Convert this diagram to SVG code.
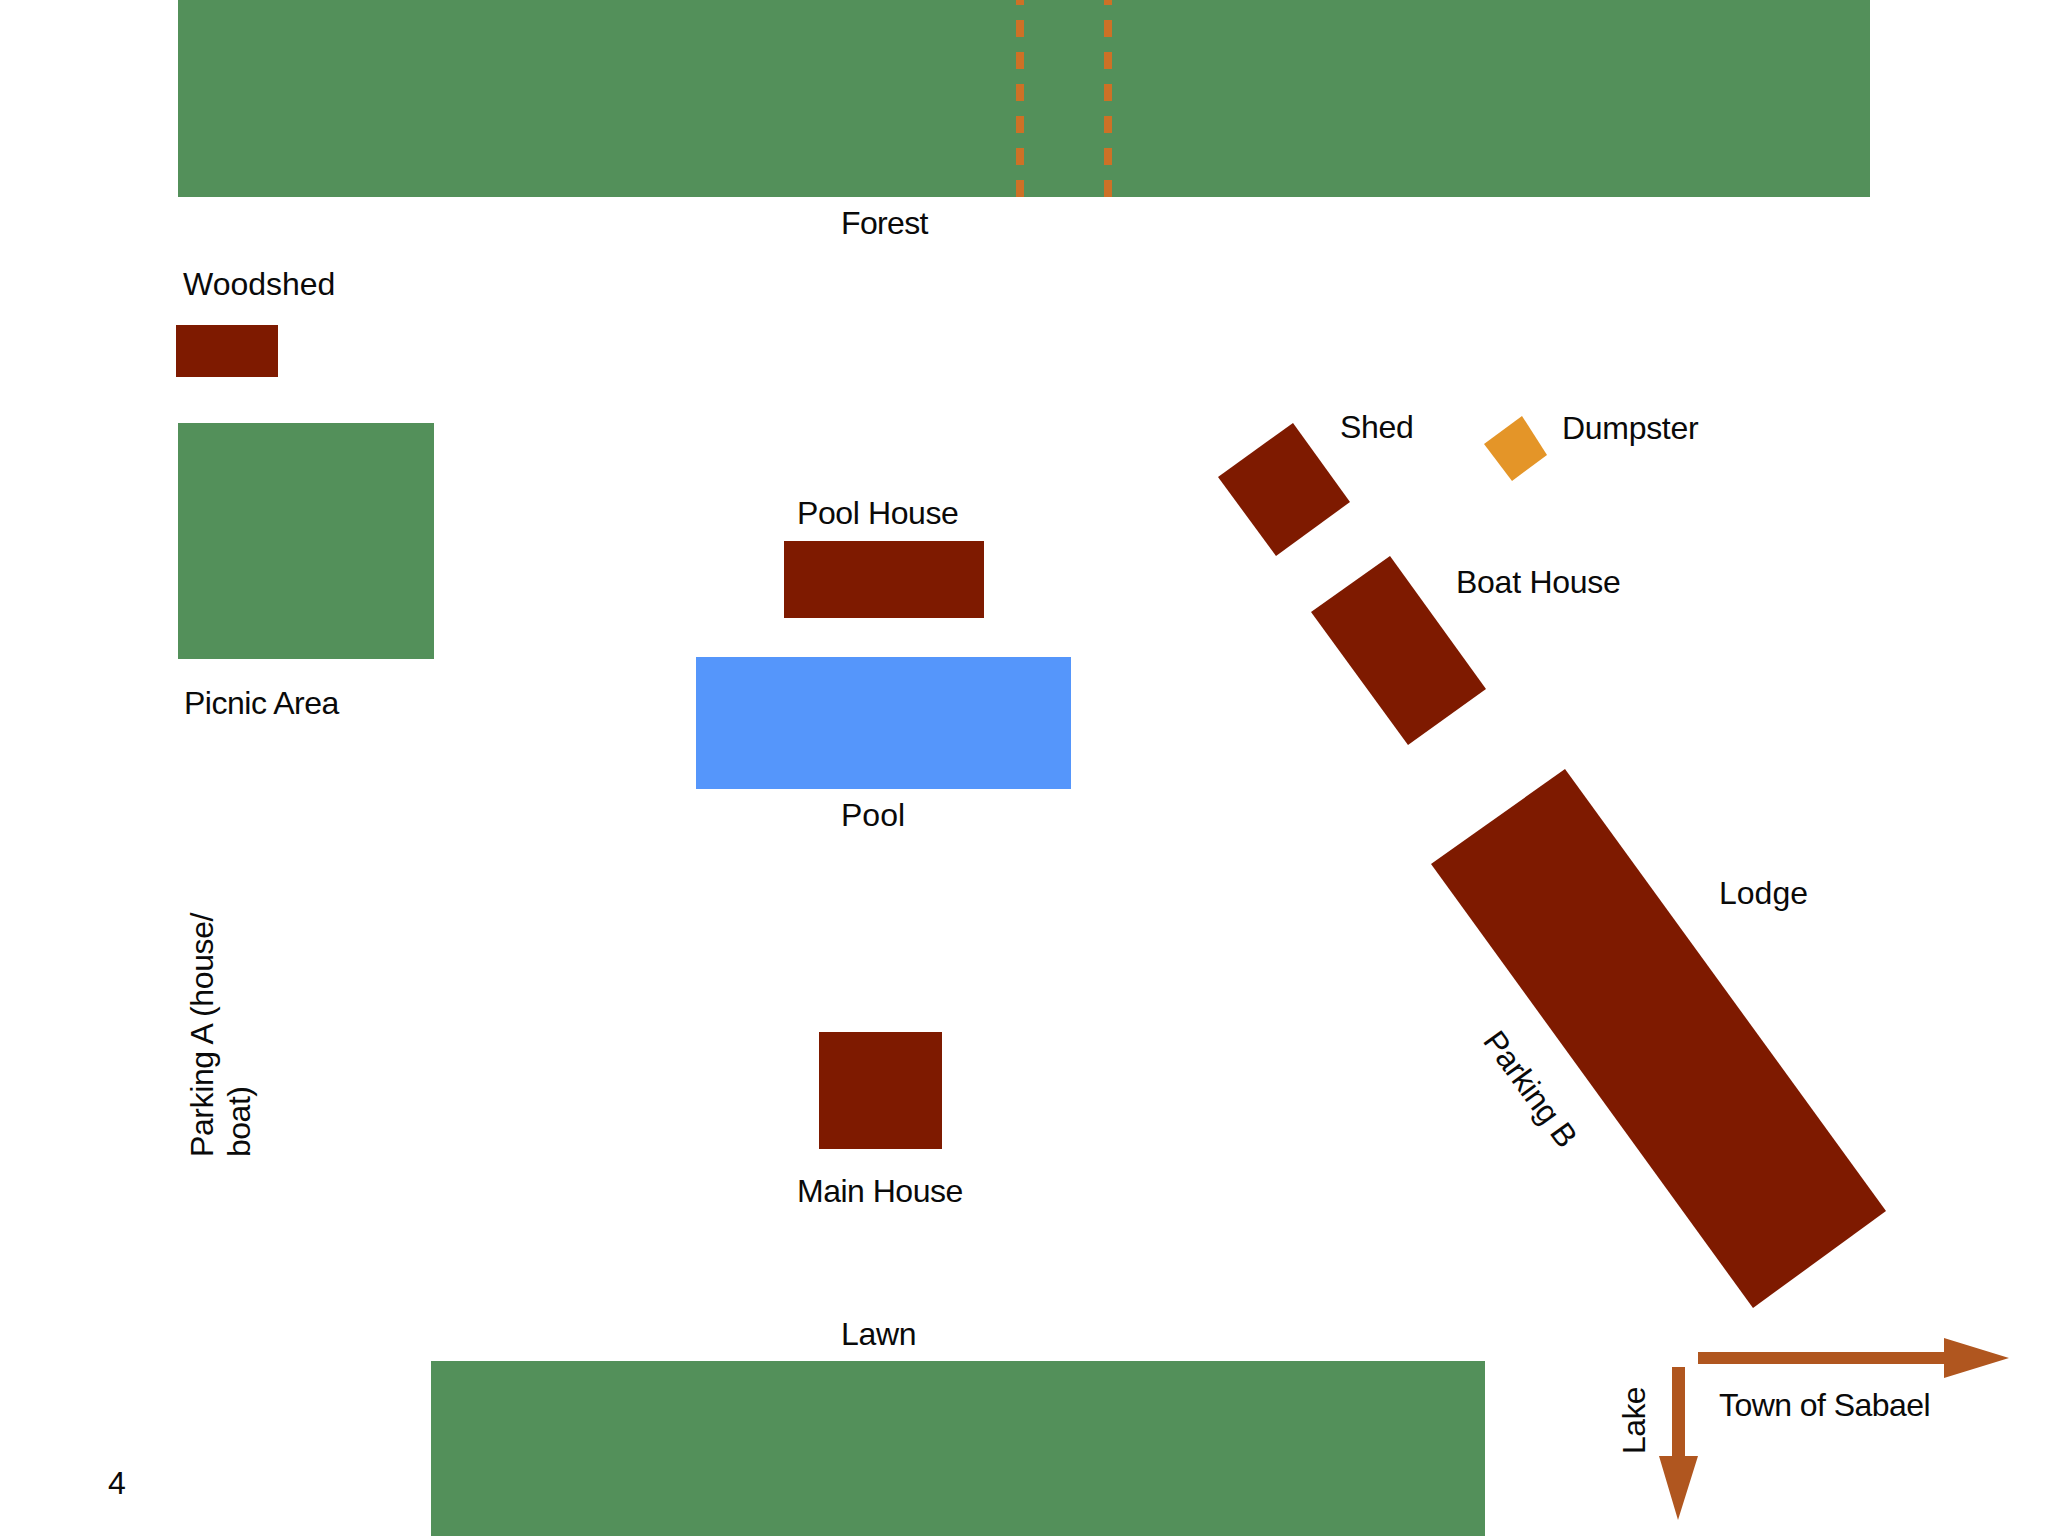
<svg xmlns="http://www.w3.org/2000/svg" width="2048" height="1536" viewBox="0 0 2048 1536">
<style>
.t{font-family:"Liberation Sans",Arial,sans-serif;font-size:32px;fill:#0a0a0a;letter-spacing:-.4px}
.g{fill:#53905a}.b{fill:#7e1a00}.a{fill:#b0561f}
.d{stroke:#cd7126;stroke-width:8;stroke-dasharray:17 15;fill:none}
</style>
<rect width="2048" height="1536" fill="#fff"/>
<g id="forest"><rect class="g" x="178" y="0" width="1692" height="197"/><text class="t" x="841" y="234" style="letter-spacing:-.65px">Forest</text></g>
<g id="trail"><path class="d" d="M1020 197V0"/><path class="d" d="M1108 197V0"/></g>
<g id="woodshed"><rect class="b" x="176" y="325" width="102" height="52"/><text class="t" x="183" y="295" style="letter-spacing:0">Woodshed</text></g>
<g id="picnic-area"><rect class="g" x="178" y="423" width="256" height="236"/><text class="t" x="184" y="714" style="letter-spacing:-.47px">Picnic Area</text></g>
<g id="pool-house"><rect class="b" x="784" y="541" width="200" height="77"/><text class="t" x="797" y="524">Pool House</text></g>
<g id="pool"><rect x="696" y="657" width="375" height="132" fill="#5596fb"/><text class="t" x="841" y="826" style="letter-spacing:0">Pool</text></g>
<g id="main-house"><rect class="b" x="819" y="1032" width="123" height="117"/><text class="t" x="797" y="1202" style="letter-spacing:-.5px">Main House</text></g>
<g id="lawn"><rect class="g" x="431" y="1361" width="1054" height="175"/><text class="t" x="841" y="1345" style="letter-spacing:-.3px">Lawn</text></g>
<g id="shed"><polygon class="b" points="1293,423 1218,477 1276,556 1350,502"/><text class="t" x="1340" y="438" style="letter-spacing:-.3px">Shed</text></g>
<g id="dumpster"><polygon points="1522,416 1484,444 1512,481 1547,455" fill="#e49528"/><text class="t" x="1562" y="439" style="letter-spacing:-.3px">Dumpster</text></g>
<g id="boat-house"><polygon class="b" points="1390,556 1311,612 1408,745 1486,689"/><text class="t" x="1456" y="593" style="letter-spacing:-.26px">Boat House</text></g>
<g id="lodge"><polygon class="b" points="1565,769 1431,864 1753,1308 1886,1211"/><text class="t" x="1719" y="904" style="letter-spacing:0">Lodge</text></g>
<g id="parking-a"><text class="t" transform="translate(213 1157) rotate(-90)">Parking A (house/</text><text class="t" transform="translate(250 1157) rotate(-90)" style="letter-spacing:-.5px">boat)</text></g>
<g id="parking-b"><text class="t" transform="translate(1482 1041) rotate(54)" style="letter-spacing:-.5px">Parking B</text></g>
<g id="connectors">
<polygon class="a" points="1698,1352 1944,1352 1944,1338 2009,1358 1944,1378 1944,1364 1698,1364"/>
<polygon class="a" points="1672,1367 1685,1367 1685,1456 1698,1456 1678,1520 1659,1456 1672,1456"/>
</g>
<g id="town-of-sabael"><text class="t" x="1719" y="1416" style="letter-spacing:-.55px">Town of Sabael</text></g>
<g id="lake"><text class="t" transform="translate(1645 1454) rotate(-90)" style="letter-spacing:-.6px">Lake</text></g>
<g id="page-number"><text class="t" x="108" y="1494">4</text></g>
</svg>
